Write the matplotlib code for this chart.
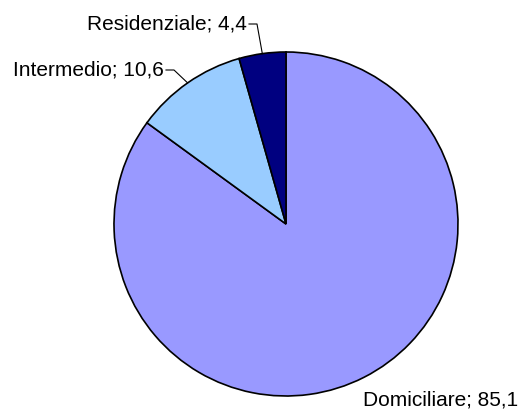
import numpy as np
import matplotlib.pyplot as plt

plt.rcParams["font.family"] = ["Liberation Sans", "DejaVu Sans"]

names = ["Domiciliare", "Intermedio", "Residenziale"]
values = [85.1, 10.6, 4.4]
colors = ["#9999FF", "#99CCFF", "#000080"]

W, H = 523, 409
fig = plt.figure(figsize=(W / 100, H / 100), dpi=100)
ax = fig.add_axes([0, 0, 1, 1])

cx, cy, r = 286, H - 224, 172
wedges, _ = ax.pie(
    values,
    colors=colors,
    startangle=90,
    counterclock=False,
    center=(cx, cy),
    radius=r,
    wedgeprops=dict(edgecolor="black", linewidth=1.2),
    frame=True,
)
ax.set_xlim(0, W)
ax.set_ylim(0, H)
ax.set_aspect("equal")
ax.axis("off")

labels = [f"{n}; {v:.1f}".replace(".", ",") for n, v in zip(names, values)]

# label anchors (end of the horizontal leader segment) per slice
anchors = {
    "Domiciliare": None,
    "Intermedio": (174, H - 70),
    "Residenziale": (257, H - 24),
}
fs = 15
for w, name, lab in zip(wedges, names, labels):
    mid = np.deg2rad((w.theta1 + w.theta2) / 2)
    ex, ey = cx + r * np.cos(mid), cy + r * np.sin(mid)
    anc = anchors[name]
    if anc is None:
        ax.text(518, H - 400, lab, ha="right", va="center", fontsize=fs)
        continue
    ax.plot([ex, anc[0], anc[0] - 8], [ey, anc[1], anc[1]], color="black", lw=0.8)
    ax.text(anc[0] - 10, anc[1], lab, ha="right", va="center", fontsize=fs)

fig.savefig("out.png", dpi=100)
